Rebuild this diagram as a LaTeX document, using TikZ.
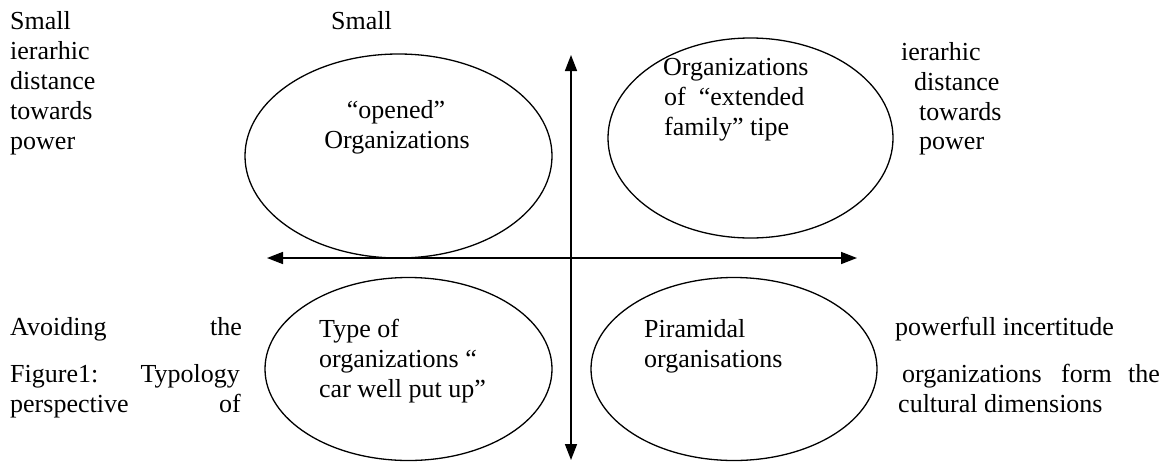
\documentclass[tikz,border=0pt]{standalone}
\usepackage{fontspec}
\setmainfont{Liberation Serif}
\usetikzlibrary{arrows.meta,shapes.geometric}
\begin{document}
\begin{tikzpicture}[x=1pt,y=-1pt,
  txt/.style={inner sep=0pt,anchor=base west,font=\fontsize{26}{30}\selectfont},
  txtr/.style={txt,anchor=base east},
  txtc/.style={txt,anchor=base},
  oval/.style={draw,ellipse,line width=1.3pt,inner sep=0pt},
  tip/.tip={Triangle[length=16pt,width=12pt]},
  axis/.style={line width=1.6pt,tip-tip}]
\useasboundingbox (0,0) rectangle (1167,461);
% ellipses
\node[oval,minimum width=307pt,minimum height=204pt] (tl) at (398.5,156) {};
\node[oval,minimum width=285pt,minimum height=200pt] (tr) at (750.5,138) {};
\node[oval,minimum width=287pt,minimum height=183pt] (bl) at (408.5,369) {};
\node[oval,minimum width=286pt,minimum height=183pt] (br) at (734,369) {};
% axes
\coordinate (vtop) at (571,55);
\coordinate (vbot) at (571,460);
\coordinate (hleft) at (267,258);
\coordinate (hright) at (857,258);
\draw[axis] (vbot) -- (vtop);
\draw[axis] (hleft) -- (hright);
% left column
\node[txt] (l1) at (10,29) {Small};
\node[txt] (l2) at (10,59) {ierarhic};
\node[txt] (l3) at (10,89) {distance};
\node[txt] (l4) at (10,119) {towards};
\node[txt] (l5) at (10,149) {power};
\node[txt] (m1) at (331,29) {Small};
% right column
\node[txt] (r2) at (901,60) {ierarhic};
\node[txt] (r3) at (914,90) {distance};
\node[txt] (r4) at (919,120) {towards};
\node[txt] (r5) at (919,149) {power};
% ellipse texts
\node[txtc] (tl1) at (396,118) {“opened”};
\node[txtc] (tl2) at (397,148) {Organizations};
\node[txt] (tr1) at (663,75) {Organizations};
\node[txt] (tr2) at (664,105) {of~~“extended};
\node[txt] (tr3) at (664,135) {family” tipe};
\node[txt] (bl1) at (319,337) {Type of};
\node[txt] (bl2) at (319,367) {organizations “};
\node[txt] (bl3) at (319,397) {car well put up”};
\node[txt] (br1) at (644,337) {Piramidal};
\node[txt] (br2) at (644,367) {organisations};
% bottom left text
\node[txt] (a1) at (10,335) {Avoiding};
\node[txtr] (a2) at (242,335) {the};
\node[txt] (f1) at (10,382) {Figure1:};
\node[txtr] (f2) at (240,382) {Typology};
\node[txt] (p1) at (10,412) {perspective};
\node[txtr] (p2) at (241,412) {of};
% bottom right text
\node[txt] (pw) at (895,335) {powerfull incertitude};
\node[txt] (o1) at (902,382) {organizations};
\node[txt] (o2) at (1061,382) {form};
\node[txtr] (o3) at (1160,382) {the};
\node[txt] (cd) at (898,412) {cultural dimensions};
\end{tikzpicture}
\end{document}
